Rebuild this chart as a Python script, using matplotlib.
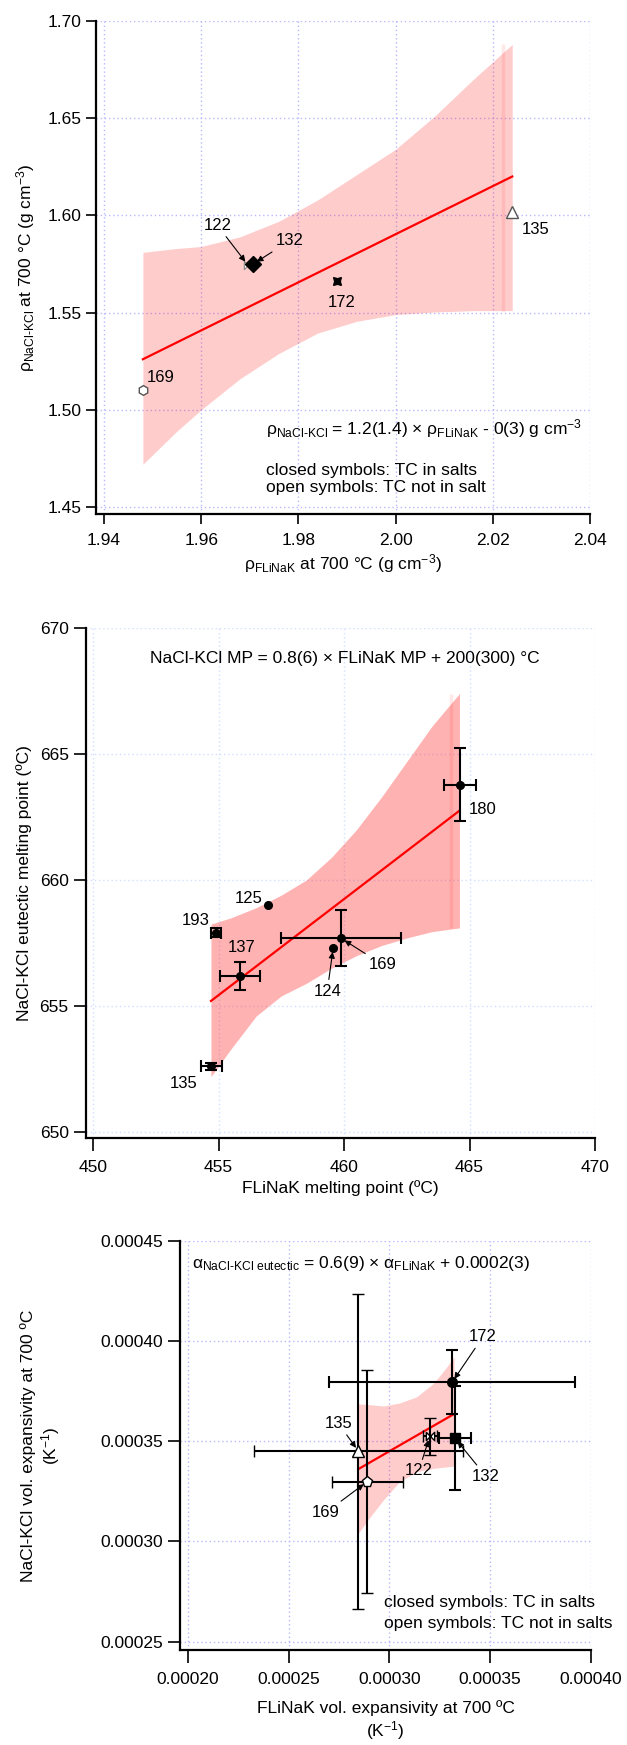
import numpy as np
import matplotlib
matplotlib.use("Agg")
import matplotlib.pyplot as plt
from matplotlib.path import Path
from matplotlib.ticker import FormatStrFormatter

plt.rcParams['font.family'] = ['Liberation Sans', 'DejaVu Sans']
plt.rcParams['mathtext.fontset'] = 'custom'
plt.rcParams['mathtext.rm'] = 'Liberation Sans'
plt.rcParams['mathtext.it'] = 'Liberation Sans'
plt.rcParams['mathtext.bf'] = 'Liberation Sans:bold'
plt.rcParams['mathtext.default'] = 'regular'

# --- density at 700 C (g cm-3) ---
rho_ids = ['169', '122', '132', '172', '135']
rho_flinak = [1.948, 1.9696, 1.9707, 1.988, 2.024]
rho_nacl_kcl = [1.510, 1.5745, 1.575, 1.566, 1.6015]
rho_fit_x = [1.948, 2.024]
rho_fit_y = [1.526, 1.620]
rho_band_x = [1.948, 1.955, 1.960, 1.968, 1.976, 1.984, 1.992, 2.000, 2.008, 2.016, 2.024]
rho_band_hi = [1.581, 1.583, 1.584, 1.589, 1.597, 1.608, 1.621, 1.634, 1.651, 1.670, 1.688]
rho_band_lo = [1.472, 1.489, 1.500, 1.516, 1.529, 1.5395, 1.5455, 1.549, 1.5503, 1.551, 1.551]
rho_band_edge = 2.022
rho_xticks = [1.94, 1.96, 1.98, 2.00, 2.02, 2.04]
rho_yticks = [1.45, 1.50, 1.55, 1.60, 1.65, 1.70]

# --- melting points (C) ---
mp_ids = ['180', '125', '193', '137', '169', '124', '135']
mp_flinak = [464.62, 456.98, 454.9, 455.86, 459.88, 459.57, 454.72]
mp_nacl_kcl = [663.78, 659.0, 657.9, 656.19, 657.69, 657.31, 652.61]
mp_flinak_err = [0.63, 0.0, 0.2, 0.8, 2.4, 0.0, 0.4]
mp_nacl_kcl_err = [1.45, 0.0, 0.18, 0.57, 1.1, 0.0, 0.13]
mp_fit_x = [454.7, 464.6]
mp_fit_y = [655.2, 662.75]
mp_band_x = [454.7, 455.5, 456.5, 457.5, 458.5, 459.5, 460.5, 461.5, 462.5, 463.5, 464.6]
mp_band_hi = [658.25, 658.5, 658.9, 659.4, 660.0, 660.9, 662.0, 663.3, 664.7, 666.1, 667.4]
mp_band_lo = [652.2, 653.3, 654.6, 655.4, 655.9, 656.5, 657.0, 657.4, 657.7, 657.95, 658.1]
mp_band_edge = 464.25
mp_xticks = [450, 455, 460, 465, 470]
mp_yticks = [650, 655, 660, 665, 670]

# --- volumetric expansivity at 700 C (1/K) ---
alpha_ids = ['172', '132', '122', '135', '169']
alpha_flinak = [0.000331, 0.0003325, 0.000320, 0.0002846, 0.0002889]
alpha_nacl_kcl = [0.0003794, 0.0003515, 0.0003525, 0.0003450, 0.0003298]
alpha_flinak_err = [0.0000611, 0.000008, 0.0000035, 0.0000518, 0.0000176]
alpha_nacl_kcl_err = [0.000016, 0.000026, 0.0000092, 0.0000786, 0.0000556]
alpha_fit_x = [0.0002849, 0.0003315]
alpha_fit_y = [0.0003363, 0.0003633]
alpha_band_x = [0.0002845, 0.000290, 0.000297, 0.000305, 0.0003135, 0.000322, 0.0003285, 0.000332]
alpha_band_hi = [0.0003686, 0.0003683, 0.0003676, 0.0003691, 0.0003722, 0.0003791, 0.0003872, 0.0003922]
alpha_band_lo = [0.0003040, 0.0003117, 0.0003207, 0.0003298, 0.0003348, 0.0003365, 0.0003372, 0.0003376]
alpha_xticks = [0.00020, 0.00025, 0.00030, 0.00035, 0.00040]
alpha_yticks = [0.00025, 0.00030, 0.00035, 0.00040, 0.00045]

W, H = 627, 1745
bowtie = Path([(-1, 1), (-1, -1), (1, 1), (1, -1), (-1, 1)])
arrow = dict(arrowstyle='-|>', color='black', lw=0.8, mutation_scale=9,
             shrinkA=1, shrinkB=3)


def make_axes(fig, left, right, top, bottom):
    return fig.add_axes([left / W, 1 - bottom / H, (right - left) / W, (bottom - top) / H])


def style_axes(ax, xticks, yticks, gap_x, gap_y, grid_color, tick_len):
    # the lower limits are pushed out a few pixels so the axes sit off the data
    bb = ax.get_position()
    span_x = bb.width * W - gap_x
    span_y = bb.height * H - gap_y
    x0, x1 = xticks[0], xticks[-1]
    y0, y1 = yticks[0], yticks[-1]
    ax.set_xlim(x0 - (x1 - x0) * gap_x / span_x, x1)
    ax.set_ylim(y0 - (y1 - y0) * gap_y / span_y, y1)
    ax.set_xticks(xticks)
    ax.set_yticks(yticks)
    for s in ['top', 'right']:
        ax.spines[s].set_visible(False)
    for s in ['left', 'bottom']:
        ax.spines[s].set_linewidth(1.6)
    ax.tick_params(axis='both', direction='out', length=tick_len, width=1.2,
                   labelsize=12.5)
    ax.tick_params(axis='x', pad=6.5)
    ax.tick_params(axis='y', pad=3.5)
    ax.grid(True, color=grid_color, linestyle=(0, (1, 2)), linewidth=1)
    ax.set_axisbelow(True)


fig = plt.figure(figsize=(W / 100, H / 100), dpi=100)

# ---------------- density ----------------
ax1 = make_axes(fig, 96, 590, 21, 514)
style_axes(ax1, rho_xticks, rho_yticks, 8, 7, '#b8b8ff', 7)
ax1.fill_between(rho_band_x, rho_band_lo, rho_band_hi, color='#ff0000', alpha=0.2, lw=0)
ax1.vlines(rho_band_edge, rho_band_lo[-1], rho_band_hi[-1], color='#ff0000', alpha=0.09, lw=2.5)
ax1.plot(rho_fit_x, rho_fit_y, color='#ff0000', lw=1.6)

rho_style = {
    '169': dict(marker='h', ms=7, mfc='white', mec='#555555', mew=1),
    '122': dict(marker=bowtie, ms=6, mfc='white', mec='#888888', mew=0.8),
    '132': dict(marker='D', ms=8, mfc='black', mec='black'),
    '172': dict(marker=(4, 1, 45), ms=8, mfc='black', mec='black'),
    '135': dict(marker='^', ms=8, mfc='white', mec='#555555', mew=1),
}
for sid, x, y in zip(rho_ids, rho_flinak, rho_nacl_kcl):
    ax1.plot(x, y, ls='none', **rho_style[sid])

rho_labels = {'169': ((13, 9.4), False), '122': ((-22, 28.6), True),
              '132': ((26, 16.6), True), '172': ((3, -15), False),
              '135': ((17, -12.6), False)}
for sid, x, y in zip(rho_ids, rho_flinak, rho_nacl_kcl):
    off, has_arrow = rho_labels[sid]
    ax1.annotate(sid, (x, y), xytext=off, textcoords='offset points',
                 ha='center', va='center', fontsize=12,
                 arrowprops=arrow if has_arrow else None)

ax1.text(0.344, 0.174, r'ρ$_{\text{NaCl-KCl}}$ = 1.2(1.4) × ρ$_{\text{FLiNaK}}$ - 0(3) g cm$^{-3}$',
         transform=ax1.transAxes, fontsize=12.5, va='center')
ax1.text(0.344, 0.089, 'closed symbols: TC in salts', transform=ax1.transAxes,
         fontsize=12.5, va='center')
ax1.text(0.344, 0.053, 'open symbols: TC not in salt', transform=ax1.transAxes,
         fontsize=12.5, va='center')
ax1.set_xlabel(r'ρ$_{\text{FLiNaK}}$ at 700 °C (g cm$^{-3}$)', fontsize=12.5)
ax1.set_ylabel(r'ρ$_{\text{NaCl-KCl}}$ at 700 °C (g cm$^{-3}$)', fontsize=12.5)
ax1.xaxis.set_label_coords(0.5, -0.077)
ax1.yaxis.set_label_coords(-0.12, 0.5)
ax1.yaxis.set_major_formatter(FormatStrFormatter('%.2f'))
ax1.xaxis.set_major_formatter(FormatStrFormatter('%.2f'))

# ---------------- melting point ----------------
ax2 = make_axes(fig, 86, 595, 628, 1138)
style_axes(ax2, mp_xticks, mp_yticks, 7, 6, '#d4e0ff', 9)
ax2.fill_between(mp_band_x, mp_band_lo, mp_band_hi, color='#ff0000', alpha=0.3, lw=0)
ax2.vlines(mp_band_edge, mp_band_lo[-1], mp_band_hi[-1], color='#ff0000', alpha=0.09, lw=2.5)
ax2.plot(mp_fit_x, mp_fit_y, color='#ff0000', lw=1.6)

for x, y, xe, ye in zip(mp_flinak, mp_nacl_kcl, mp_flinak_err, mp_nacl_kcl_err):
    ax2.errorbar(x, y, xerr=xe if xe else None, yerr=ye if ye else None,
                 fmt='o', ms=5.5, color='black', elinewidth=1.5, capsize=4,
                 capthick=1.5)

mp_labels = {'180': ((16, -17.8), False), '125': ((-14.4, 4.7), False),
             '193': ((-14.4, 8.9), False), '137': ((1.4, 20.8), False),
             '169': ((30, -19), True), '124': ((-4.3, -31.2), True),
             '135': ((-20, -12.6), False)}
for sid, x, y in zip(mp_ids, mp_flinak, mp_nacl_kcl):
    off, has_arrow = mp_labels[sid]
    ax2.annotate(sid, (x, y), xytext=off, textcoords='offset points',
                 ha='center', va='center', fontsize=12,
                 arrowprops=arrow if has_arrow else None)

ax2.text(0.509, 0.941, 'NaCl-KCl MP = 0.8(6) × FLiNaK MP + 200(300) °C',
         transform=ax2.transAxes, fontsize=12.5, ha='center', va='center')
ax2.set_xlabel('FLiNaK melting point (ºC)', fontsize=12.5)
ax2.set_ylabel('NaCl-KCl eutectic melting point (ºC)', fontsize=12.5)
ax2.xaxis.set_label_coords(0.5, -0.082)
ax2.yaxis.set_label_coords(-0.106, 0.5)

# ---------------- expansivity ----------------
ax3 = make_axes(fig, 180, 591, 1241, 1650)
style_axes(ax3, alpha_xticks, alpha_yticks, 8, 8.5, '#b8b8ff', 9)
ax3.fill_between(alpha_band_x, alpha_band_lo, alpha_band_hi, color='#ff0000', alpha=0.2, lw=0)
ax3.plot(alpha_fit_x, alpha_fit_y, color='#ff0000', lw=1.6)

alpha_style = {
    '172': dict(fmt='o', ms=7, mfc='black', mec='black'),
    '132': dict(fmt='s', ms=7, mfc='black', mec='black'),
    '122': dict(marker=bowtie, ls='none', ms=6, mfc='white', mec='black', mew=1),
    '135': dict(fmt='^', ms=8, mfc='white', mec='black', mew=1),
    '169': dict(fmt='p', ms=8, mfc='white', mec='black', mew=1),
}
for sid, x, y, xe, ye in zip(alpha_ids, alpha_flinak, alpha_nacl_kcl,
                             alpha_flinak_err, alpha_nacl_kcl_err):
    ax3.errorbar(x, y, xerr=xe, yerr=ye, ecolor='black', elinewidth=1.5,
                 capsize=4.5, capthick=1.5, **alpha_style[sid])

alpha_labels = {'172': (22.3, 32.8), '132': (22.3, -27.4), '122': (-8, -25),
                '135': (-14.4, 20), '169': (-29.5, -22)}
for sid, x, y in zip(alpha_ids, alpha_flinak, alpha_nacl_kcl):
    ax3.annotate(sid, (x, y), xytext=alpha_labels[sid], textcoords='offset points',
                 ha='center', va='center', fontsize=12, arrowprops=arrow)

ax3.text(0.029, 0.945,
         r'α$_{\text{NaCl-KCl eutectic}}$ = 0.6(9) × α$_{\text{FLiNaK}}$ + 0.0002(3)',
         transform=ax3.transAxes, fontsize=12.5, va='center')
ax3.text(0.496, 0.115, 'closed symbols: TC in salts', transform=ax3.transAxes,
         fontsize=12.5, va='center')
ax3.text(0.496, 0.064, 'open symbols: TC not in salts', transform=ax3.transAxes,
         fontsize=12.5, va='center')
ax3.xaxis.set_major_formatter(FormatStrFormatter('%.5f'))
ax3.yaxis.set_major_formatter(FormatStrFormatter('%.5f'))
ax3.set_xlabel('FLiNaK vol. expansivity at 700 ºC\n(K$^{-1}$)', fontsize=12.5)
ax3.set_ylabel('NaCl-KCl vol. expansivity at 700 ºC\n(K$^{-1}$)', fontsize=12.5)
ax3.xaxis.set_label_coords(0.5, -0.122)
ax3.yaxis.set_label_coords(-0.287, 0.5)

fig.savefig('out.png', dpi=100)
